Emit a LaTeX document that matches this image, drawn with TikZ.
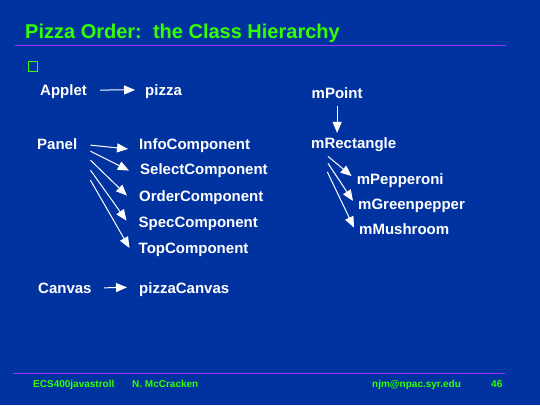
\documentclass[tikz,border=0pt]{standalone}
\usepackage{fontspec}
\setmainfont{Liberation Sans}
\usetikzlibrary{arrows.meta}
\definecolor{slidebg}{RGB}{0,51,160}
\definecolor{titlegreen}{RGB}{51,255,0}
\definecolor{rulepurple}{RGB}{153,51,255}
\tikzset{
  cls/.style={anchor=base west, inner sep=0pt, text=white, font=\fontsize{15}{18}\selectfont\bfseries},
  inherit/.style={draw=white, line width=1pt, -{Triangle[length=11pt,width=9pt]}},
  foot/.style={anchor=base west, inner sep=0pt, text=titlegreen, font=\fontsize{10}{12}\selectfont\bfseries},
}
\begin{document}
\begin{tikzpicture}[x=1pt, y=-1pt]
    % Slide background
    \fill[slidebg] (0,0) rectangle (540,405);
    \useasboundingbox (0,0) rectangle (540,405);
    % Title
    \node[anchor=base west, inner sep=0pt, text=titlegreen, font=\fontsize{20}{24}\selectfont\bfseries] (title) at (25,38) {Pizza Order:\ \ the Class Hierarchy};
    \draw[rulepurple, line width=1pt] (15,45) -- (506,45);
    \node[draw=titlegreen, line width=1pt, minimum width=9pt, minimum height=10pt, inner sep=0pt] (bullet) at (32.5,66) {};
    % Applet
    \node[cls] (applet) at (40,95) {Applet};
    \node[cls] (pizza) at (145,95) {pizza};
    \draw[inherit] ([xshift=13pt,yshift=1.1pt]applet.east) -- ([xshift=-10pt,yshift=1.2pt]pizza.west);
    % Panel
    \node[cls] (panel) at (37,149) {Panel};
    \foreach \name/\x/\y in {info/139/149, select/140/174, order/139/201, spec/138.5/227, top/138.5/253} {
        \node[cls] (\name) at (\x,\y) {};
    }
    \node[cls] at (info.base west) {InfoComponent};
    \node[cls] at (select.base west) {SelectComponent};
    \node[cls] at (order.base west) {OrderComponent};
    \node[cls] at (spec.base west) {SpecComponent};
    \node[cls] at (top.base west) {TopComponent};
    \foreach \tgt/\sy/\ex/\ey in {info/-1.5/-11/0, select/-7.5/-11/3.4, order/-16.5/-12/5.4, spec/-26.5/-12/6.4, top/-36.5/-9/5} {
        \draw[inherit] ([xshift=13pt,yshift=\sy pt]panel.east) -- ([xshift=\ex pt,yshift=\ey pt]\tgt.west);
    }
    % Canvas
    \node[cls] (canvas) at (38,293) {Canvas};
    \node[cls] (pizzacanvas) at (139,293) {pizzaCanvas};
    \draw[inherit] ([xshift=12pt]canvas.east) -- ([xshift=-12pt,yshift=1.8pt]pizzacanvas.west);
    % mPoint hierarchy
    \node[cls] (mpoint) at (311.5,98) {mPoint};
    \node[cls] (mrect) at (311,148) {mRectangle};
    \draw[inherit, shorten <=8pt, shorten >=4pt] (mpoint.south) -- (mpoint.south |- mrect.north);
    \node[cls] (pepperoni) at (356.7,184) {mPepperoni};
    \node[cls] (greenpepper) at (358,209) {mGreenpepper};
    \node[cls] (mushroom) at (359,234) {mMushroom};
    \foreach \tgt/\sx/\sy/\ey in {pepperoni/17/-5/4, greenpepper/17/-12/4.4, mushroom/16.3/-20.5/1} {
        \draw[inherit] ([xshift=\sx pt,yshift=\sy pt]mrect.south west) -- ([xshift=-5pt,yshift=\ey pt]\tgt.west);
    }
    % Footer
    \draw[rulepurple, line width=1pt] (13,373) -- (505,373);
    \node[foot] (course) at (33,387) {ECS400javastroll};
    \node[foot] (author) at (132,387) {N. McCracken};
    \node[foot] (email) at (372,387) {njm@npac.syr.edu};
    \node[foot] (page) at (491,387) {46};
\end{tikzpicture}
\end{document}
